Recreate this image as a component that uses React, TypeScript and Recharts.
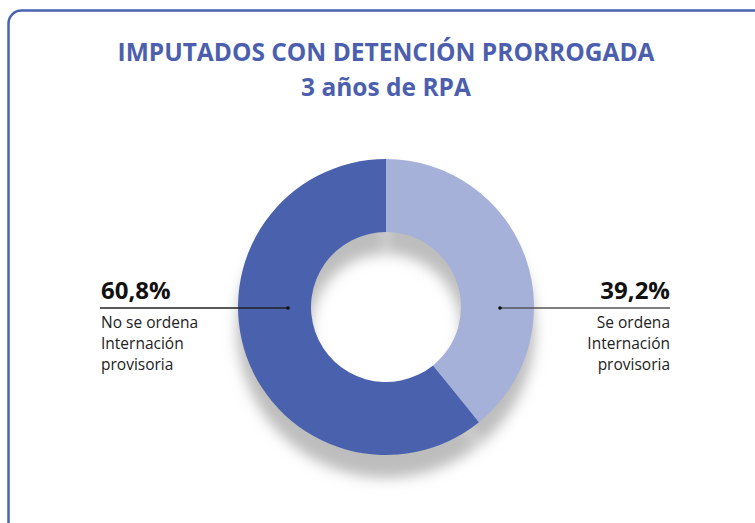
import { PieChart, Pie, Cell } from "recharts";

// donut: share of defendants with extended detention
const categories = ["Se ordena Internación provisoria", "No se ordena Internación provisoria"];
const categoryLines = [
  ["Se ordena", "Internación", "provisoria"],
  ["No se ordena", "Internación", "provisoria"],
];
const values = [39.2, 60.8];
const titleLines = ["IMPUTADOS CON DETENCIÓN PRORROGADA", "3 años de RPA"];

const COLORS = ["#a5b1d8", "#4a62ae"];
const TITLE_COLOR = "#4b5fae";
const FONT = "'Open Sans', 'DejaVu Sans', sans-serif";
const RAD = Math.PI / 180;

const data = values.map((v, i) => ({ name: categories[i], value: v, lines: categoryLines[i] }));

const fmt = (v: number) => v.toFixed(1).replace(".", ",") + "%";

const renderLabel = (props: any) => {
  const { cx, cy, midAngle, innerRadius, value } = props;
  const lines: string[] = props.payload?.lines ?? props.lines ?? [];
  const right = Math.cos(midAngle * RAD) > 0;
  const dotX = right ? cx + innerRadius + 39 : cx - innerRadius - 23;
  const lineY = cy + 1;
  const endX = right ? cx + 284 : cx - 286;
  const anchor = right ? "end" : "start";
  const textX = right ? endX : endX + 1;
  return (
    <g>
      <line x1={dotX} y1={lineY} x2={endX} y2={lineY} stroke={right ? "#555" : "#222"} strokeWidth={1.3} />
      <circle cx={dotX} cy={lineY} r={1.8} fill="#111" />
      <text x={textX} y={cy - 8} textAnchor={anchor} fontFamily={FONT} fontWeight={700} fontSize={24} fill="#111">
        {fmt(value)}
      </text>
      {lines.map((l, i) => (
        <text key={i} x={textX} y={cy + 21 + i * 21} textAnchor={anchor} fontFamily={FONT} fontSize={15.5} fill="#222">
          {l}
        </text>
      ))}
    </g>
  );
};

export default function App() {
  return (
    <div style={{ position: "relative", width: 755, height: 523, overflow: "hidden", background: "#fff" }}>
      <style>{`body{margin:0} .donut-shadow{filter:url(#donutBlur)}`}</style>
      <svg width={755} height={523} style={{ position: "absolute", left: 0, top: 0 }}>
        <defs>
          <filter id="donutBlur" x="-30%" y="-30%" width="160%" height="160%">
            <feGaussianBlur stdDeviation={5} />
          </filter>
        </defs>
        <rect x={8.5} y={10.5} width={760} height={524} rx={13} fill="none" stroke="#4b63b3" strokeWidth={2.5} />
        <text x={386} y={61} textAnchor="middle" fontFamily={FONT} fontWeight={700} fontSize={24.5} fill={TITLE_COLOR}>
          {titleLines[0]}
        </text>
        <text x={386} y={96} textAnchor="middle" fontFamily={FONT} fontWeight={700} fontSize={24.5} fill={TITLE_COLOR}>
          {titleLines[1]}
        </text>
      </svg>
      <div style={{ position: "absolute", left: 0, top: 0 }}>
        <PieChart width={755} height={523} margin={{ top: 0, right: 0, bottom: 0, left: 0 }}>
          <Pie
            className="donut-shadow"
            data={data}
            dataKey="value"
            nameKey="name"
            cx={386}
            cy={329}
            innerRadius={75}
            outerRadius={149}
            startAngle={90}
            endAngle={-270}
            stroke="none"
            fill="#bdbdbd"
            label={false}
            labelLine={false}
            isAnimationActive={false}
          />
          <Pie
            data={data}
            dataKey="value"
            nameKey="name"
            cx={386}
            cy={307}
            innerRadius={75}
            outerRadius={148}
            startAngle={90}
            endAngle={-270}
            stroke="none"
            label={renderLabel}
            labelLine={false}
            isAnimationActive={false}
          >
            {data.map((d, i) => (
              <Cell key={d.name} fill={COLORS[i]} />
            ))}
          </Pie>
        </PieChart>
      </div>
    </div>
  );
}
